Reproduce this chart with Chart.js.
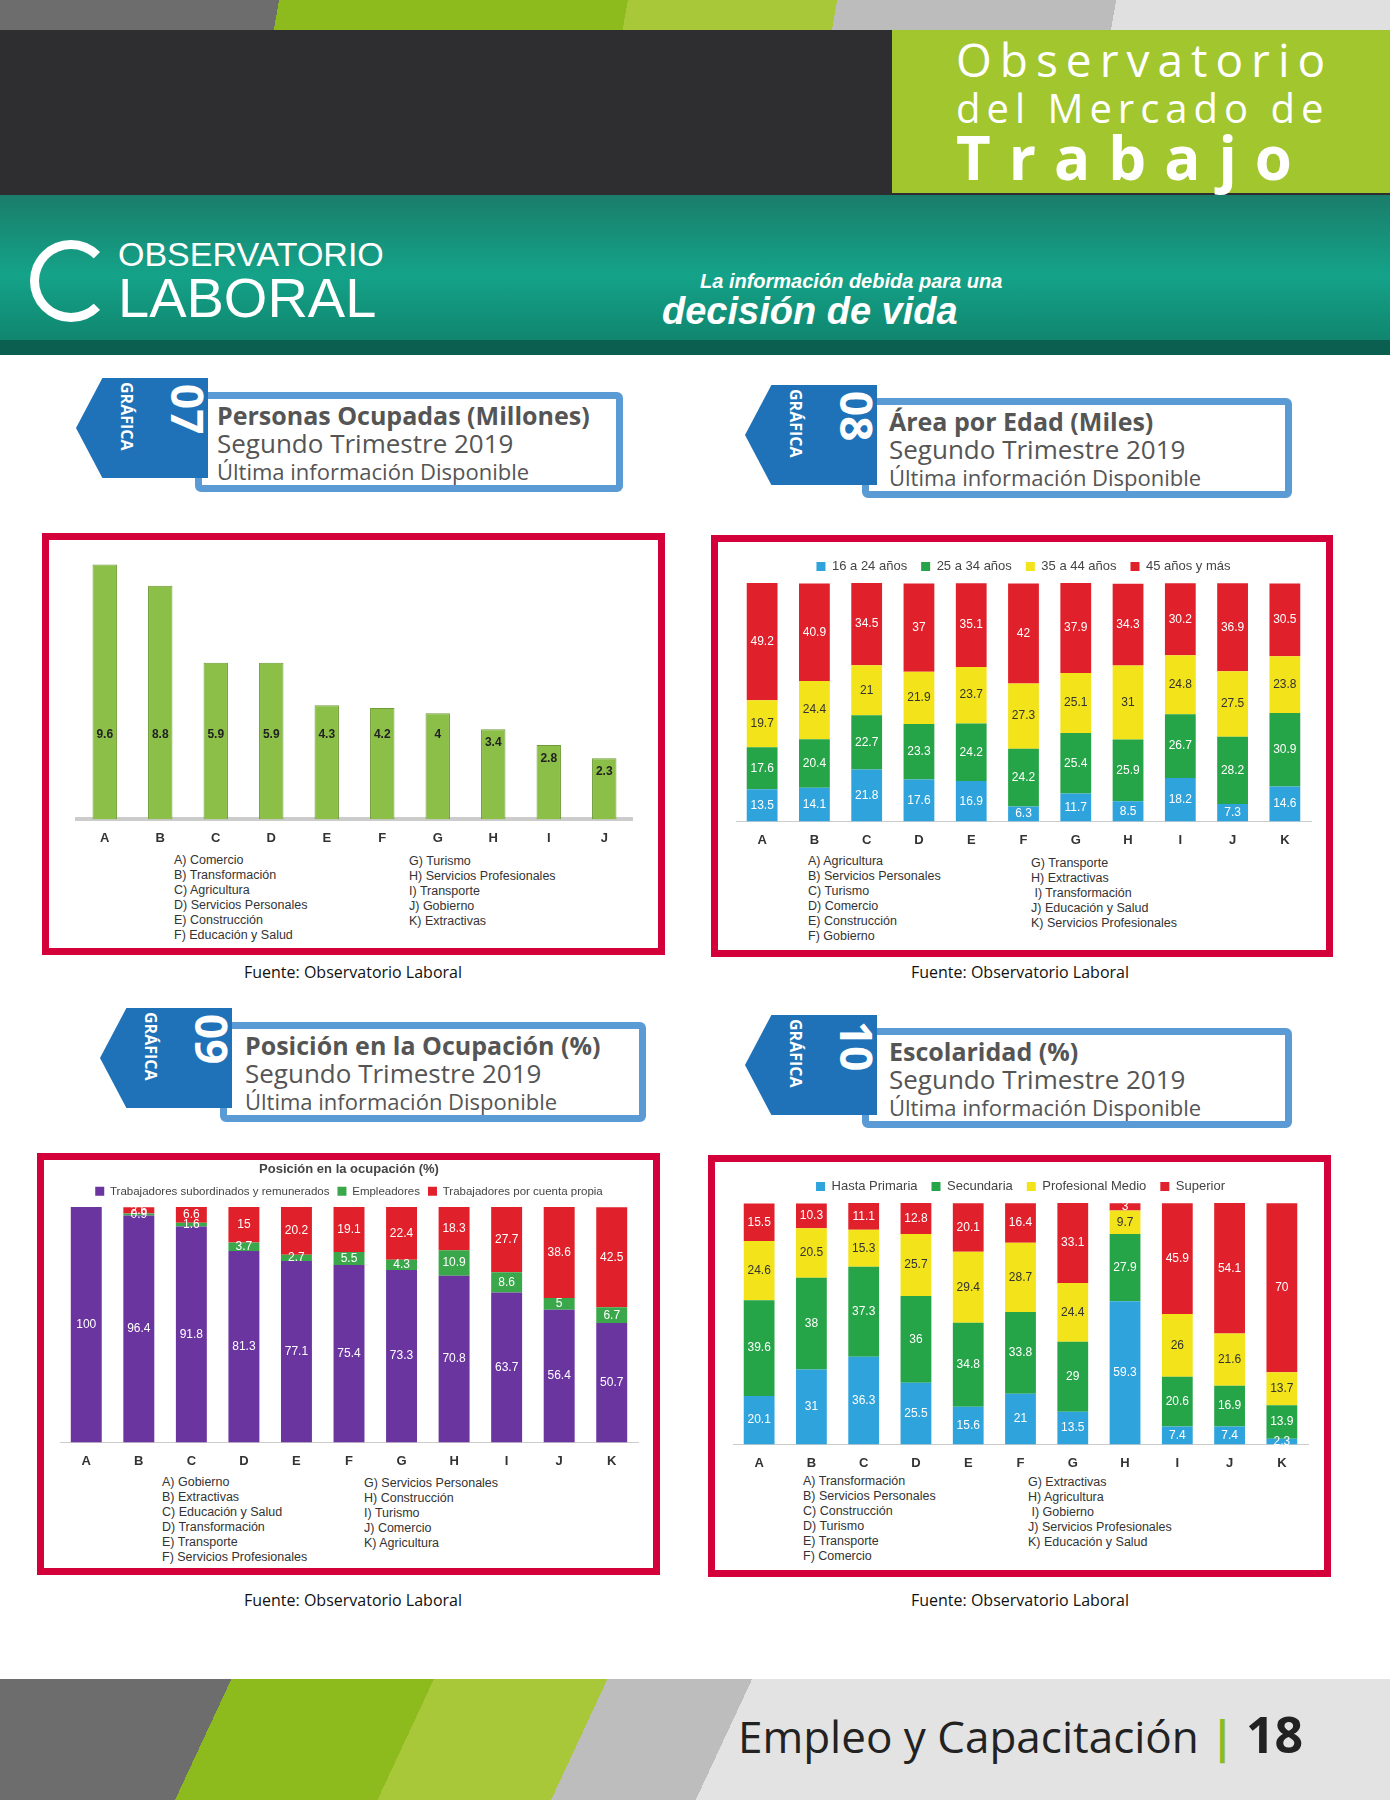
<!DOCTYPE html>
<html>
<head>
<meta charset="UTF-8">
<script src="https://cdn.jsdelivr.net/npm/chart.js"></script>
<style>
  body { margin:0; width:1390px; height:1800px; position:relative; background:#fff; font-family:"Open Sans",sans-serif; overflow:hidden; }
  .abs { position:absolute; }
  .frame { position:absolute; border:7px solid #d4003a; background:#fff; box-sizing:border-box; }
  .frame canvas { display:block; }
  .tbox { position:absolute; border:7px solid #5b9bd5; border-radius:6px; box-sizing:border-box; padding:2px 0 0 0; }
  .tbox b { display:block; font-size:25px; color:#555; line-height:28px; }
  .tbox span { display:block; font-size:26px; color:#555; line-height:28px; }
  .tbox i { display:block; font-style:normal; font-size:22px; color:#555; line-height:28px; }
  .badge { position:absolute; background:#1f72b8; clip-path:polygon(20% 0,100% 0,100% 100%,20% 100%,0 50%); }
  .badge div { position:absolute; color:#fff; transform:rotate(90deg); transform-origin:left top; white-space:nowrap; font-weight:bold; }
  .cats { position:absolute; font-family:"Liberation Sans",Arial,sans-serif; font-size:12.5px; color:#333; line-height:15px; }
  .src { position:absolute; font-size:16px; color:#111; width:560px; text-align:center; }
</style>
</head>
<body>
<!-- header -->
<div class="abs" style="left:0;top:0;width:1390px;height:30px;background:linear-gradient(100deg,#6d6d6d 0 20%,#8dbb1e 20% 45%,#a8c83a 45% 60%,#bcbcbc 60% 80%,#e0e0e0 80%);"></div>
<div class="abs" style="left:0;top:30px;width:1390px;height:165px;background:#2e2e30;"></div>
<div class="abs" style="left:892px;top:30px;width:498px;height:163px;background:#a2c62d;color:#fff;">
  <div style="position:absolute;left:64px;top:-2px;font-size:46px;letter-spacing:8px;">Observatorio</div>
  <div style="position:absolute;left:64px;top:50px;font-size:40px;letter-spacing:6px;">del Mercado de</div>
  <div style="position:absolute;left:64px;top:86px;font-size:60px;font-weight:bold;letter-spacing:18px;">Trabajo</div>
</div>
<div class="abs" style="left:0;top:195px;width:1390px;height:160px;background:linear-gradient(180deg,#1a7d6a,#14a389 50%,#0f7f69);"></div>
<div class="abs" style="left:0;top:340px;width:1390px;height:15px;background:#0b5f50;"></div>
<div class="abs" style="left:30px;top:240px;width:82px;height:82px;border-radius:50%;border:9px solid #fff;border-right-color:transparent;box-sizing:border-box;"></div>
<div class="abs" style="left:118px;top:235px;color:#fff;font-size:34px;font-family:'Liberation Sans';">OBSERVATORIO</div>
<div class="abs" style="left:118px;top:270px;color:#fff;font-size:56px;font-family:'Liberation Sans';line-height:56px;">LABORAL</div>
<div class="abs" style="left:700px;top:270px;color:#fff;font-size:20px;font-style:italic;font-weight:bold;font-family:'Liberation Sans';">La información debida para una</div>
<div class="abs" style="left:662px;top:290px;color:#fff;font-size:38px;font-style:italic;font-weight:bold;font-family:'Liberation Sans';">decisión de vida</div>

<!-- title boxes -->
<div class="tbox" style="left:195px;top:392px;width:428px;height:100px;padding-left:15px;"><b>Personas Ocupadas (Millones)</b><span>Segundo Trimestre 2019</span><i>Última información Disponible</i></div>
<div class="badge" style="left:76px;top:378px;width:132px;height:100px;"><div style="left:142px;top:6px;font-size:44px;">07</div><div style="left:62px;top:4px;font-size:16px;">GRÁFICA</div></div>

<div class="tbox" style="left:862px;top:398px;width:430px;height:100px;padding-left:20px;"><b>Área por Edad (Miles)</b><span>Segundo Trimestre 2019</span><i>Última información Disponible</i></div>
<div class="badge" style="left:745px;top:385px;width:132px;height:100px;"><div style="left:142px;top:6px;font-size:44px;">08</div><div style="left:62px;top:4px;font-size:16px;">GRÁFICA</div></div>

<div class="tbox" style="left:220px;top:1022px;width:426px;height:100px;padding-left:18px;"><b>Posición en la Ocupación (%)</b><span>Segundo Trimestre 2019</span><i>Última información Disponible</i></div>
<div class="badge" style="left:100px;top:1008px;width:132px;height:100px;"><div style="left:142px;top:6px;font-size:44px;">09</div><div style="left:62px;top:4px;font-size:16px;">GRÁFICA</div></div>

<div class="tbox" style="left:862px;top:1028px;width:430px;height:100px;padding-left:20px;"><b>Escolaridad (%)</b><span>Segundo Trimestre 2019</span><i>Última información Disponible</i></div>
<div class="badge" style="left:745px;top:1015px;width:132px;height:100px;"><div style="left:142px;top:6px;font-size:44px;">10</div><div style="left:62px;top:4px;font-size:16px;">GRÁFICA</div></div>

<!-- frames -->
<div class="frame" style="left:42px;top:533px;width:623px;height:422px;">
  <div style="position:absolute;left:8px;top:4px;width:595px;height:305px;"><canvas id="c07"></canvas></div>
  <div class="cats" style="left:125px;top:313px;">A) Comercio<br>B) Transformación<br>C) Agricultura<br>D) Servicios Personales<br>E) Construcción<br>F) Educación y Salud</div>
  <div class="cats" style="left:360px;top:314px;">G) Turismo<br>H) Servicios Profesionales<br>I) Transporte<br>J) Gobierno<br>K) Extractivas</div>
</div>
<div class="frame" style="left:711px;top:535px;width:622px;height:422px;">
  <div style="position:absolute;left:8px;top:4px;width:595px;height:305px;"><canvas id="c08"></canvas></div>
  <div class="cats" style="left:90px;top:312px;">A) Agricultura<br>B) Servicios Personales<br>C) Turismo<br>D) Comercio<br>E) Construcción<br>F) Gobierno</div>
  <div class="cats" style="left:313px;top:314px;">G) Transporte<br>H) Extractivas<br>&nbsp;I) Transformación<br>J) Educación y Salud<br>K) Servicios Profesionales</div>
</div>
<div class="frame" style="left:37px;top:1153px;width:623px;height:422px;">
  <div style="position:absolute;left:6px;top:0px;width:598px;height:312px;"><canvas id="c09"></canvas></div>
  <div class="cats" style="left:118px;top:315px;">A) Gobierno<br>B) Extractivas<br>C) Educación y Salud<br>D) Transformación<br>E) Transporte<br>F) Servicios Profesionales</div>
  <div class="cats" style="left:320px;top:316px;">G) Servicios Personales<br>H) Construcción<br>I) Turismo<br>J) Comercio<br>K) Agricultura</div>
</div>
<div class="frame" style="left:708px;top:1155px;width:623px;height:422px;">
  <div style="position:absolute;left:8px;top:4px;width:595px;height:308px;"><canvas id="c10"></canvas></div>
  <div class="cats" style="left:88px;top:312px;">A) Transformación<br>B) Servicios Personales<br>C) Construcción<br>D) Turismo<br>E) Transporte<br>F) Comercio</div>
  <div class="cats" style="left:313px;top:313px;">G) Extractivas<br>H) Agricultura<br>&nbsp;I) Gobierno<br>J) Servicios Profesionales<br>K) Educación y Salud</div>
</div>

<div class="src" style="left:73px;top:961px;">Fuente: Observatorio Laboral</div>
<div class="src" style="left:740px;top:961px;">Fuente: Observatorio Laboral</div>
<div class="src" style="left:73px;top:1589px;">Fuente: Observatorio Laboral</div>
<div class="src" style="left:740px;top:1589px;">Fuente: Observatorio Laboral</div>

<!-- footer -->
<div class="abs" style="left:0;top:1679px;width:1390px;height:121px;background:linear-gradient(115deg,#6d6d6d 0 16%,#8dbb1e 16% 30%,#a8c83a 30% 42%,#bdbdbd 42% 52%,#e3e3e3 52%);"></div>
<div class="abs" style="left:738px;top:1700px;font-size:44px;color:#222;">Empleo y Capacitación <span style="color:#8dbb1e;font-weight:bold;">|</span> <b style="font-size:50px;">18</b></div>

<script>
const letters10 = ['A','B','C','D','E','F','G','H','I','J'];
const letters11 = ['A','B','C','D','E','F','G','H','I','J','K'];

const ocupados = [9.6, 8.8, 5.9, 5.9, 4.3, 4.2, 4, 3.4, 2.8, 2.3];

const edadLabels = ['16 a 24 años', '25 a 34 años', '35 a 44 años', '45 años y más'];
const edad16 = [13.5, 14.1, 21.8, 17.6, 16.9, 6.3, 11.7, 8.5, 18.2, 7.3, 14.6];
const edad25 = [17.6, 20.4, 22.7, 23.3, 24.2, 24.2, 25.4, 25.9, 26.7, 28.2, 30.9];
const edad35 = [19.7, 24.4, 21, 21.9, 23.7, 27.3, 25.1, 31, 24.8, 27.5, 23.8];
const edad45 = [49.2, 40.9, 34.5, 37, 35.1, 42, 37.9, 34.3, 30.2, 36.9, 30.5];

const posLabels = ['Trabajadores subordinados y remunerados', 'Empleadores', 'Trabajadores por cuenta propia'];
const posSub = [100, 96.4, 91.8, 81.3, 77.1, 75.4, 73.3, 70.8, 63.7, 56.4, 50.7];
const posEmp = [0, 0.9, 1.6, 3.7, 2.7, 5.5, 4.3, 10.9, 8.6, 5, 6.7];
const posCta = [0, 2.6, 6.6, 15, 20.2, 19.1, 22.4, 18.3, 27.7, 38.6, 42.5];

const escLabels = ['Hasta Primaria', 'Secundaria', 'Profesional Medio', 'Superior'];
const escPrim = [20.1, 31, 36.3, 25.5, 15.6, 21, 13.5, 59.3, 7.4, 7.4, 2.3];
const escSec = [39.6, 38, 37.3, 36, 34.8, 33.8, 29, 27.9, 20.6, 16.9, 13.9];
const escProf = [24.6, 20.5, 15.3, 25.7, 29.4, 28.7, 24.4, 9.7, 26, 21.6, 13.7];
const escSup = [15.5, 10.3, 11.1, 12.8, 20.1, 16.4, 33.1, 3, 45.9, 54.1, 70];

const BLUE = '#2fa3dc', GREEN = '#26a448', YELLOW = '#f2e31a', RED = '#e0202a', PURPLE = '#6b35a0';

// draws the value of each segment in its middle
const segLabels = {
  id: 'segLabels',
  afterDatasetsDraw(chart, args, opts) {
    const ctx = chart.ctx;
    ctx.save();
    ctx.font = '12px "Liberation Sans Narrow", "Liberation Sans", sans-serif';
    ctx.textAlign = 'center';
    ctx.textBaseline = 'middle';
    chart.data.datasets.forEach((ds, i) => {
      const meta = chart.getDatasetMeta(i);
      if (meta.hidden) return;
      meta.data.forEach((bar, j) => {
        const v = ds.data[j];
        if (opts.skipZero && !v) return;
        const y = (bar.y + bar.base) / 2;
        ctx.fillStyle = ds.labelColor || '#fff';
        ctx.fillText(String(v), bar.x, y);
      });
    });
    ctx.restore();
  }
};

const stackedOpts = (legendPad, legendSize, title) => ({
  responsive: true, maintainAspectRatio: false, animation: false,
  layout: { padding: { left: 10, right: 10, top: 0, bottom: 0 } },
  plugins: {
    title: title ? { display: true, text: title, color: '#444', font: { size: 13, family: 'Liberation Sans' }, padding: { top: 2, bottom: 0 } } : { display: false },
    legend: { position: 'top', labels: { boxWidth: 9, boxHeight: 9, color: '#444', font: { size: legendSize, family: 'Liberation Sans' }, padding: legendPad } },
    tooltip: { enabled: false },
    segLabels: { skipZero: true }
  },
  scales: {
    x: { stacked: true, grid: { display: false }, border: { color: '#ccc' }, ticks: { color: '#333', font: { size: 13, weight: 'bold' } } },
    y: { stacked: true, display: false, min: 0, max: 100 }
  }
});

const ds = (label, data, color, lc) => ({ label, data, backgroundColor: color, labelColor: lc || '#fff', barPercentage: 0.62, categoryPercentage: 0.95, borderRadius: 0 });

new Chart(document.getElementById('c07'), {
  type: 'bar',
  data: { labels: letters10, datasets: [{ data: ocupados, backgroundColor: '#8cbf48', borderColor: '#6e9b35', borderWidth: 1, barPercentage: 0.55 }] },
  options: {
    responsive: true, maintainAspectRatio: false, animation: false,
    layout: { padding: { left: 20, right: 20, top: 10 } },
    plugins: { legend: { display: false }, tooltip: { enabled: false } },
    scales: {
      x: { grid: { display: false }, border: { color: '#ccc', width: 4 }, ticks: { color: '#333', font: { size: 13, weight: 'bold' } } },
      y: { display: false, min: 0, max: 10 }
    }
  },
  plugins: [{
    id: 'val07',
    afterDatasetsDraw(chart) {
      const ctx = chart.ctx, meta = chart.getDatasetMeta(0), ys = chart.scales.y;
      ctx.save();
      ctx.font = 'bold 12px "Liberation Sans", sans-serif';
      ctx.textAlign = 'center'; ctx.textBaseline = 'middle'; ctx.fillStyle = '#222';
      meta.data.forEach((bar, j) => {
        const v = ocupados[j];
        ctx.fillText(String(v), bar.x, ys.getPixelForValue(Math.min(v - 0.5, 3.2)));
      });
      ctx.restore();
    }
  }]
});

new Chart(document.getElementById('c08'), {
  type: 'bar',
  data: { labels: letters11, datasets: [ds(edadLabels[0], edad16, BLUE), ds(edadLabels[1], edad25, GREEN), ds(edadLabels[2], edad35, YELLOW, '#333'), ds(edadLabels[3], edad45, RED)] },
  options: stackedOpts(14, 13),
  plugins: [segLabels]
});

new Chart(document.getElementById('c09'), {
  type: 'bar',
  data: { labels: letters11, datasets: [ds(posLabels[0], posSub, PURPLE), ds(posLabels[1], posEmp, '#3aa84a'), ds(posLabels[2], posCta, RED)] },
  options: stackedOpts(8, 11.5, 'Posición en la ocupación (%)'),
  plugins: [segLabels]
});

new Chart(document.getElementById('c10'), {
  type: 'bar',
  data: { labels: letters11, datasets: [ds(escLabels[0], escPrim, BLUE), ds(escLabels[1], escSec, GREEN), ds(escLabels[2], escProf, YELLOW, '#333'), ds(escLabels[3], escSup, RED)] },
  options: stackedOpts(14, 13),
  plugins: [segLabels]
});
</script>
</body>
</html>
